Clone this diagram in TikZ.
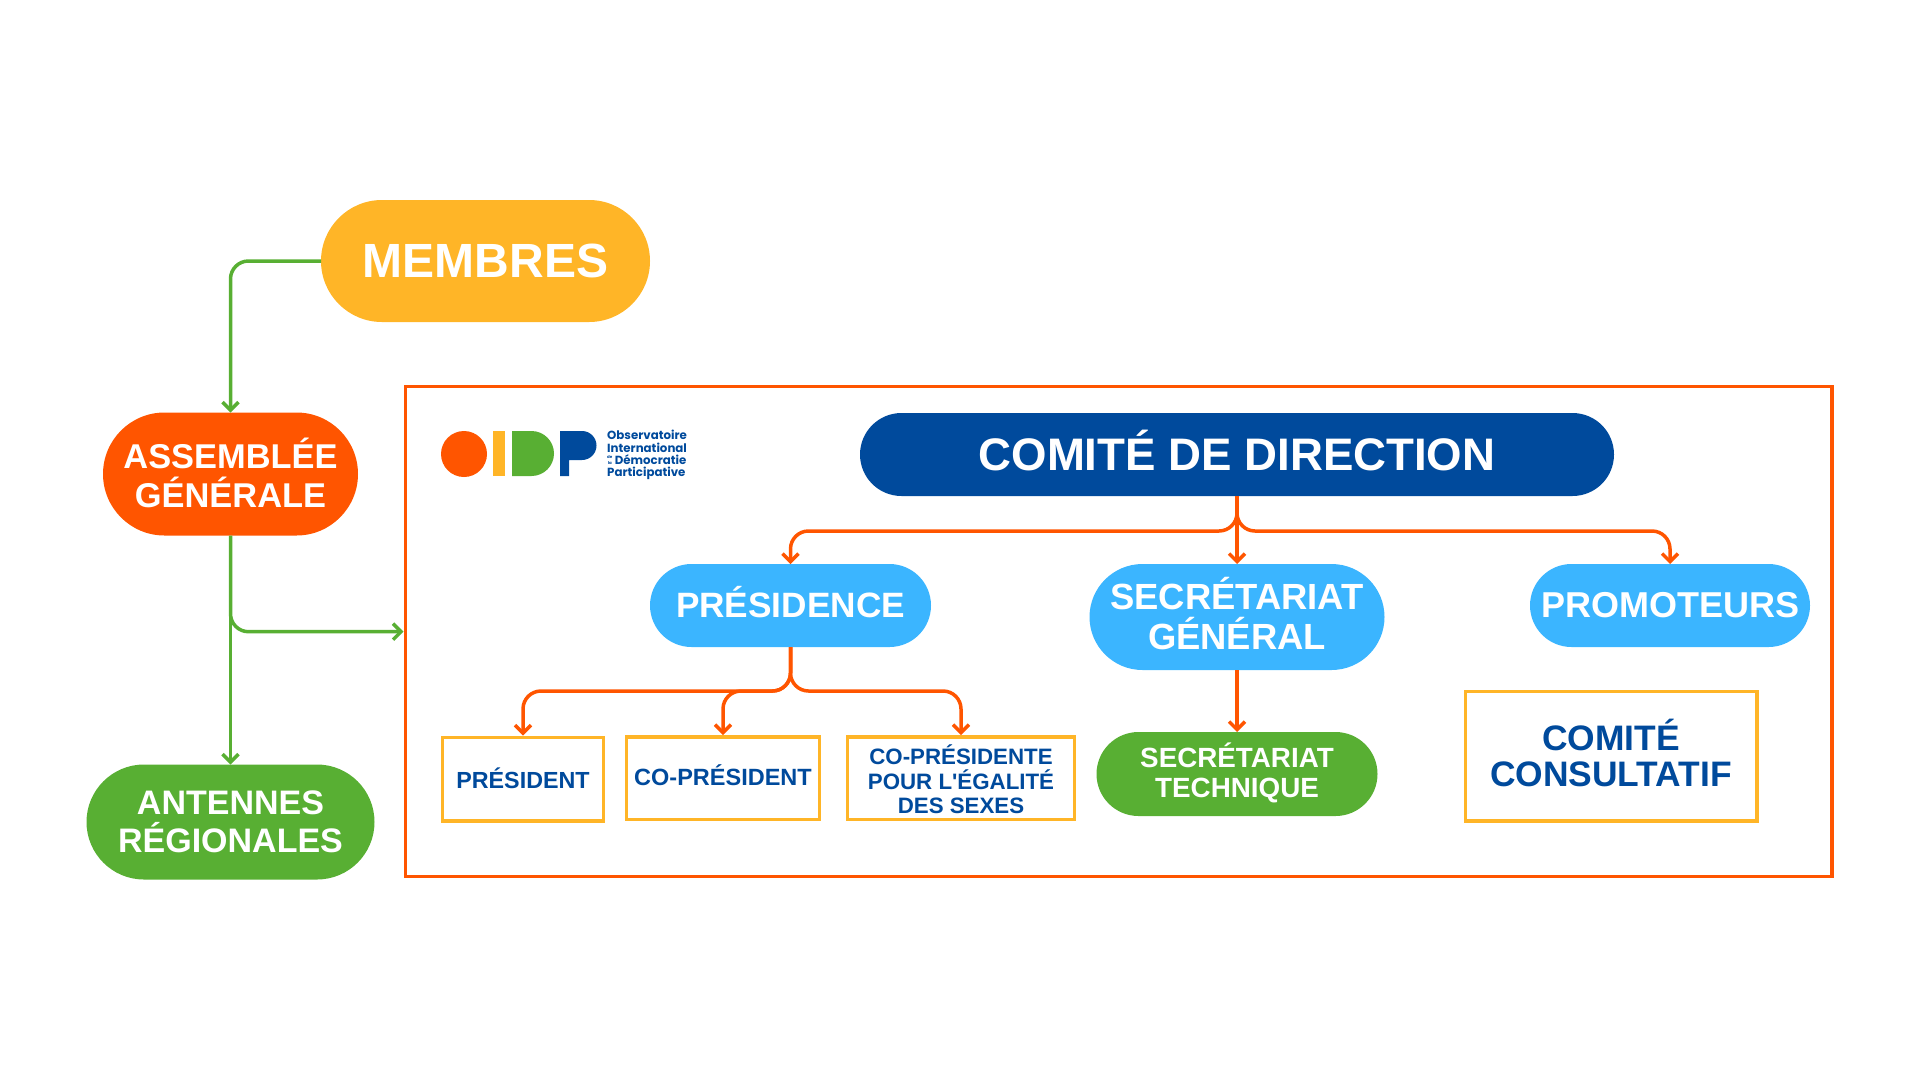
\documentclass[tikz,border=0pt]{standalone}
\usepackage{fontspec}
\setmainfont{Liberation Sans}
\newfontfamily\logofont{Poppins}
\usetikzlibrary{shapes.misc, arrows.meta, positioning}
\definecolor{oidporange}{HTML}{FF5500}
\definecolor{oidpjaune}{HTML}{FFB527}
\definecolor{oidpvert}{HTML}{58AF33}
\definecolor{oidpbleu}{HTML}{004A9C}
\definecolor{oidpciel}{HTML}{3BB5FF}
\newcommand{\taille}[2]{\fontsize{#1}{#2}\selectfont\bfseries}
\newcommand{\cale}[1]{\rule[-#1]{0pt}{#1}}

\begin{document}
\begin{tikzpicture}[
    x=1pt, y=-1pt,
    pill/.style={rounded rectangle, inner sep=0pt, outer sep=0pt, align=center, text=white},
    cadre/.style={rectangle, draw=oidpjaune, line width=3.5pt, fill=white, inner sep=0pt, outer sep=1.75pt, align=center, text=oidpbleu},
    lien/.style={->, >={Straight Barb[length=8pt, width=16pt]}, line width=3.5pt, rounded corners=18pt},
    vertlien/.style={lien, draw=oidpvert},
    orangelien/.style={lien, draw=oidporange}
]
    \useasboundingbox (0,0) rectangle (1920,1080);

    \node[rectangle, draw=oidporange, line width=3.5pt, inner sep=0pt, outer sep=1.75pt, minimum width=1426.5pt, minimum height=490pt] (perimetre) at (1118.5,631.7) {};

    % left column
    \node[pill, fill=oidpjaune, minimum width=329pt, minimum height=122pt, font=\taille{48}{52}] (membres) at (485.5,261) {MEMBRES};
    \node[pill, fill=oidporange, minimum width=255pt, minimum height=123pt, font=\taille{34.4}{39}] (assemblee) at (230.5,474) {ASSEMBLÉE\\GÉNÉRALE\cale{3.5pt}};
    \node[pill, fill=oidpvert, minimum width=288pt, minimum height=115pt, font=\taille{34}{38}, below=229pt of assemblee] (antennes) {ANTENNES\\RÉGIONALES};

    % logo
    \fill[oidporange] (464,454) circle (23pt);
    \fill[oidpjaune] (493,431) rectangle (505,476);
    \fill[oidpvert] (512,431) -- (531.5,431) arc[start angle=90, end angle=-90, radius=22.5pt] -- (512,476) -- cycle;
    \fill[oidpbleu] (560,431) -- (582,431) arc[start angle=90, end angle=-90, radius=14.5pt] -- (569,460) -- (569,476) -- (560,476) -- cycle;
    \node[anchor=west, inner sep=0pt, align=left, text=oidpbleu, font=\logofont\taille{11.8}{12.3}] (logotexte) at (607,455) {Observatoire\\International\\{\fontsize{4}{4}\selectfont\shortstack{de\\la}} Démocratie\\Participative};

    % comite
    \node[pill, fill=oidpbleu, minimum width=754pt, minimum height=83pt, font=\taille{45.6}{50}] (comite) at (1237,454.5) {COMITÉ DE DIRECTION\cale{7.5pt}};
    \node[pill, fill=oidpciel, minimum width=281pt, minimum height=83pt, font=\taille{35.2}{40}, below=68pt of comite, xshift=-446.5pt] (presidence) {PRÉSIDENCE\cale{7.5pt}};
    \node[pill, fill=oidpciel, minimum width=295pt, minimum height=106pt, font=\taille{36.4}{40}, below=68pt of comite] (secretariat) {SECRÉTARIAT\\GÉNÉRAL\cale{7pt}};
    \node[pill, fill=oidpciel, minimum width=280pt, minimum height=83pt, font=\taille{36}{40}, below=68pt of comite, xshift=433pt] (promoteurs) {PROMOTEURS};

    \node[pill, fill=oidpvert, minimum width=281pt, minimum height=84pt, font=\taille{27.8}{30.6}, below=62pt of secretariat] (technique) {SECRÉTARIAT\\TECHNIQUE\cale{8pt}};
    \node[cadre, minimum width=291.5pt, minimum height=129.5pt, font=\taille{35.4}{36}, below=42.5pt of promoteurs, xshift=-59pt] (consultatif) {COMITÉ\\CONSULTATIF\cale{6.5pt}};

    \node[cadre, minimum width=161pt, minimum height=83.5pt, font=\taille{23.3}{28}, below=88.5pt of presidence, xshift=-267.5pt] (president) {PRÉSIDENT\cale{2.5pt}};
    \node[cadre, minimum width=193pt, minimum height=82.5pt, font=\taille{23.5}{28}, below=88pt of presidence, xshift=-67.5pt] (copresident) {CO-PRÉSIDENT\cale{5pt}};
    \node[cadre, minimum width=227pt, minimum height=82.5pt, font=\taille{22.3}{24.5}, below=88pt of presidence, xshift=170.5pt] (copresidente) {\rule{0pt}{23pt}CO-PRÉSIDENTE\\POUR L\textquotesingle ÉGALITÉ\\DES SEXES};

    \draw[vertlien] (membres.west) -| (assemblee.north);
    \draw[vertlien] (assemblee.south) -- (antennes.north);
    \draw[vertlien] (assemblee.south) |- (perimetre.west);

    \draw[orangelien] (comite.south) -- ++(0,35) -| (presidence.north);
    \draw[orangelien] (comite.south) -- (secretariat.north);
    \draw[orangelien] (comite.south) -- ++(0,35) -| (promoteurs.north);
    \draw[orangelien] (secretariat.south) -- (technique.north);
    \draw[orangelien] (presidence.south) -- ++(0,44) -| (president.north);
    \draw[orangelien] (presidence.south) -- ++(0,44) -| (copresident.north);
    \draw[orangelien] (presidence.south) -- ++(0,44) -| (copresidente.north);
\end{tikzpicture}
\end{document}
